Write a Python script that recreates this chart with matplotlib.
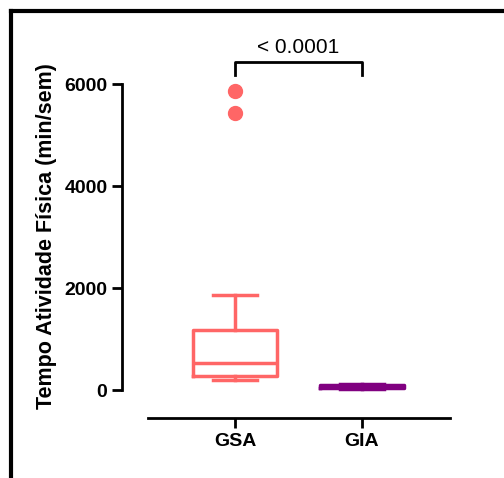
import matplotlib
matplotlib.use("Agg")
import matplotlib.pyplot as plt
from matplotlib.lines import Line2D

plt.rcParams["font.family"] = ["Liberation Sans", "DejaVu Sans"]

groups = ["GSA", "GIA"]
colors = ["#FF6666", "#800080"]
whislo = [190, 20]
q1 = [275, 40]
med = [530, 60]
q3 = [1180, 90]
whishi = [1860, 120]
fliers = [[5430, 5860], []]
p_text = "< 0.0001"
y_ticks = [0, 2000, 4000, 6000]

fig = plt.figure(figsize=(5.04, 4.78), dpi=100)
ax = fig.add_axes([148 / 504, 1 - 418 / 478, 302 / 504, 378 / 478])

# spines first: set_position resets the ticks
ax.spines["top"].set_visible(False)
ax.spines["right"].set_visible(False)
ax.spines["left"].set_position(("outward", 18.7))
ax.spines["left"].set_linewidth(2)
ax.spines["bottom"].set_linewidth(2)

stats = []
for i, g in enumerate(groups):
    stats.append({"label": g, "whislo": whislo[i], "q1": q1[i], "med": med[i],
                  "q3": q3[i], "whishi": whishi[i], "fliers": fliers[i]})

pos = list(range(1, len(groups) + 1))
for i, s in enumerate(stats):
    c = colors[i]
    ax.bxp([s], positions=[pos[i]], widths=0.66, capwidths=0.34,
           boxprops=dict(color=c, linewidth=2.5),
           whiskerprops=dict(color=c, linewidth=2.5),
           capprops=dict(color=c, linewidth=2.5),
           medianprops=dict(color=c, linewidth=2.5),
           flierprops=dict(marker="o", markerfacecolor=c, markeredgecolor=c,
                           markersize=10))

ax.set_xlim(0.315, 2.693)
ax.set_ylim(-549, 6863)
ax.spines["left"].set_bounds(0, 6000)
ax.set_yticks(y_ticks, labels=[str(t) for t in y_ticks],
              fontsize=14, fontweight="bold")
ax.set_xticks(pos, labels=groups, fontsize=14, fontweight="bold")
ax.tick_params(axis="both", width=2, length=7.5, pad=3)

ax.set_ylabel("Tempo Atividade Física (min/sem)", fontsize=15.5,
              fontweight="bold", labelpad=5)
ax.yaxis.label.set_y(0.481)

# significance bracket
y_br, drop = 6430, 255
ax.plot([pos[0], pos[0], pos[1], pos[1]], [y_br - drop, y_br, y_br, y_br - drop],
        color="black", linewidth=2, clip_on=False)
ax.text((pos[0] + pos[1]) / 2, 6608, p_text, ha="center", va="baseline",
        fontsize=15)

# outer frame (top and left only)
fig.add_artist(Line2D([11 / 504, 1], [1 - 11 / 478] * 2, color="black",
                      linewidth=3, transform=fig.transFigure))
fig.add_artist(Line2D([11 / 504] * 2, [0, 1 - 11 / 478], color="black",
                      linewidth=3, transform=fig.transFigure))

fig.savefig("out.png", dpi=100)
